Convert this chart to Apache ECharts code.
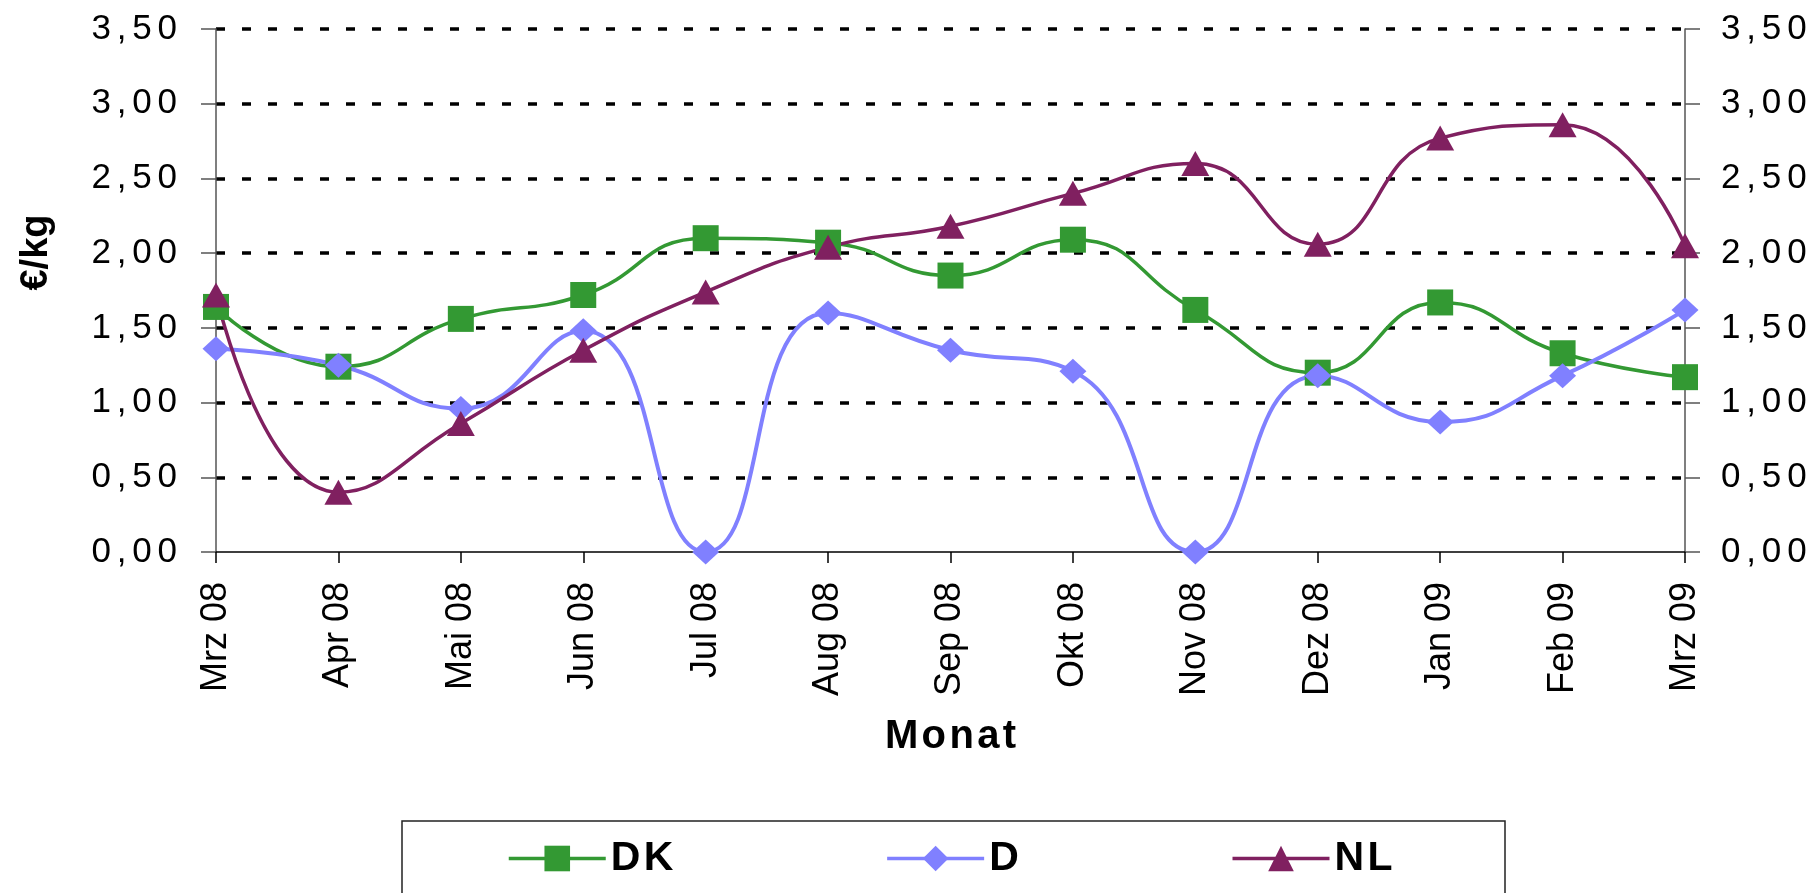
<!DOCTYPE html>
<html lang="de">
<head>
<meta charset="utf-8" />
<title>Preise DK / D / NL</title>
<script src="https://cdn.jsdelivr.net/npm/echarts@6/dist/echarts.min.js"></script>
<style>
  html, body { margin: 0; padding: 0; background: #fff; }
  #main { width: 1812px; height: 893px; }
</style>
</head>
<body>
<div id="main"></div>
<script>
    // Monate (x-Achse)
    var months = ['Mrz 08', 'Apr 08', 'Mai 08', 'Jun 08', 'Jul 08', 'Aug 08', 'Sep 08',
                  'Okt 08', 'Nov 08', 'Dez 08', 'Jan 09', 'Feb 09', 'Mrz 09'];

    // Preise in €/kg
    var dk = [1.64, 1.24, 1.56, 1.72, 2.10, 2.07, 1.85, 2.09, 1.62, 1.20, 1.67, 1.33, 1.17];
    var d  = [1.36, 1.25, 0.96, 1.48, 0.00, 1.60, 1.35, 1.21, 0.00, 1.18, 0.87, 1.18, 1.62];
    var nl = [1.72, 0.40, 0.86, 1.35, 1.74, 2.04, 2.18, 2.40, 2.60, 2.06, 2.77, 2.86, 2.05];

    var seriesNames = ['DK', 'D', 'NL'];

    // y-Achse: 0,00 .. 3,50 in Schritten von 0,50
    var yMin = 0, yMax = 3.5, yStep = 0.5;

    var font = "'Liberation Sans', Arial, sans-serif";

    // Excel-Export hat gesperrte Schrift, deshalb schmale Leerzeichen dazwischen
    function spaced(s, sp) {
        return s.split('').join(sp);
    }
    function fmtY(v) {
        return spaced(v.toFixed(2).replace('.', ','), '\u2006');
    }

    var myChart = echarts.init(document.getElementById('main'));

    var yLabel = { fontFamily: font, fontSize: 35, color: '#000', formatter: fmtY };

    var option = {
        animation: false,
        backgroundColor: '#fff',
        grid: { left: 216, right: 127, top: 29, bottom: 341 },
        legend: {
            data: seriesNames,
            left: 507,
            top: 838,
            padding: 0,
            itemWidth: 97,
            itemHeight: 32,
            itemGap: 212,
            formatter: function (name) { return spaced(name, '\u200a'); },
            lineStyle: { width: 3.5 },
            textStyle: { fontFamily: font, fontSize: 41, fontWeight: 'bold', color: '#000' }
        },
        graphic: [{
            type: 'rect',
            shape: { x: 402, y: 821, width: 1103, height: 120 },
            style: { fill: 'none', stroke: '#222', lineWidth: 1.5 },
            silent: true
        }],
        xAxis: {
            type: 'category',
            data: months,
            boundaryGap: false,
            name: spaced('Monat', '\u200a'),
            nameLocation: 'middle',
            nameGap: 165,
            nameTextStyle: { fontFamily: font, fontSize: 40, fontWeight: 'bold', color: '#000' },
            axisLine: { lineStyle: { color: '#000', width: 1.5 } },
            axisTick: { show: true, interval: 0, length: 11, lineStyle: { color: '#000', width: 1.5 } },
            axisLabel: { interval: 0, rotate: 90, margin: 30, fontFamily: font, fontSize: 36, color: '#000' },
            splitLine: { show: false }
        },
        yAxis: [{
            type: 'value',
            position: 'left',
            min: yMin,
            max: yMax,
            interval: yStep,
            name: '€/kg',
            nameLocation: 'middle',
            nameRotate: 90,
            nameGap: 160,
            nameTextStyle: { fontFamily: font, fontSize: 38, fontWeight: 'bold', color: '#000', padding: [0, 0, 0, 76] },
            axisLine: { show: true, lineStyle: { color: '#555', width: 1.5 } },
            axisTick: { show: true, length: 15, lineStyle: { color: '#555', width: 1.5 } },
            axisLabel: Object.assign({ margin: 39 }, yLabel),
            splitLine: { show: true, showMinLine: false, lineStyle: { color: '#000', width: 3.5, type: [9, 17] } }
        }, {
            type: 'value',
            position: 'right',
            min: yMin,
            max: yMax,
            interval: yStep,
            axisLine: { show: true, lineStyle: { color: '#555', width: 1.5 } },
            axisTick: { show: true, length: 15, lineStyle: { color: '#555', width: 1.5 } },
            axisLabel: Object.assign({ margin: 36 }, yLabel),
            splitLine: { show: false }
        }],
        series: [{
            name: 'DK',
            type: 'line',
            smooth: true,
            data: dk,
            symbol: 'rect',
            symbolSize: 26,
            itemStyle: { color: '#339933' },
            lineStyle: { color: '#339933', width: 3.5 }
        }, {
            name: 'D',
            type: 'line',
            smooth: true,
            data: d,
            symbol: 'diamond',
            symbolSize: [27, 25],
            itemStyle: { color: '#8080ff' },
            lineStyle: { color: '#8080ff', width: 4 }
        }, {
            name: 'NL',
            type: 'line',
            smooth: true,
            data: nl,
            symbol: 'triangle',
            symbolSize: [28, 25],
            itemStyle: { color: '#802060' },
            lineStyle: { color: '#802060', width: 3.5 }
        }]
    };

    myChart.setOption(option);
</script>
</body>
</html>
